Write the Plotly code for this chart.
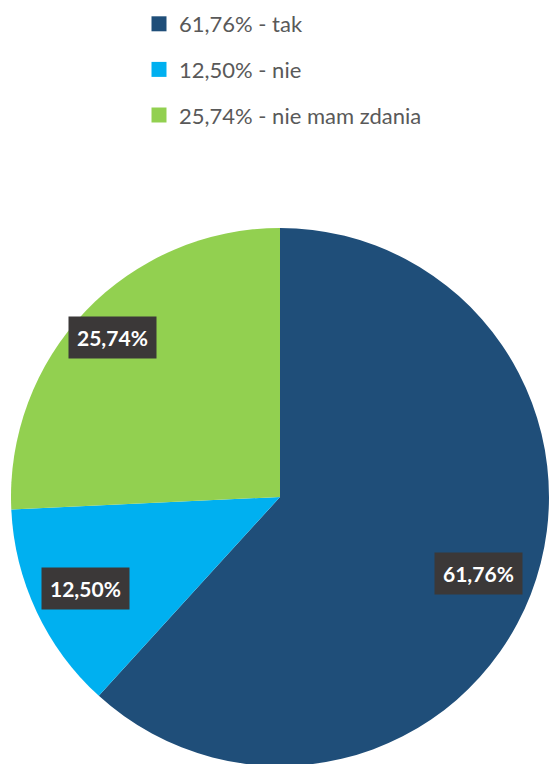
import math
import plotly.graph_objects as go

# Data
categories = ["tak", "nie", "nie mam zdania"]
values = [61.76, 12.50, 25.74]
value_labels = ["61,76%", "12,50%", "25,74%"]
colors = ["#1F4E79", "#00B0F0", "#92D050"]

W, H = 549, 766
CX, CY, R = 280, 497, 269  # pie centre / radius in pixels

fig = go.Figure()
fig.add_trace(go.Pie(
    labels=categories,
    values=values,
    sort=False,
    direction="clockwise",
    rotation=0,
    marker=dict(colors=colors, line=dict(width=0)),
    textinfo="none",
    hoverinfo="label+percent",
    showlegend=False,
    domain=dict(x=[(CX - R) / W, (CX + R) / W], y=[max(0, 1 - (CY + R) / H), 1 - (CY - R) / H]),
))

# legend entries via dummy traces
for cat, lab, col in zip(categories, value_labels, colors):
    fig.add_trace(go.Scatter(
        x=[None], y=[None], mode="markers",
        marker=dict(symbol="square", size=15, color=col),
        name=f"{lab} - {cat}", legendgroup=cat, showlegend=True,
    ))

# data labels in dark boxes placed at slice mid-angles
radial = [0.79, 0.80, 0.86]
total = sum(values)
cum = 0
for v, lab, rf in zip(values, value_labels, radial):
    mid = (cum + v / 2) / total * 2 * math.pi
    cum += v
    px = CX + rf * R * math.sin(mid)
    py = CY - rf * R * math.cos(mid)
    fig.add_annotation(
        x=px / W, y=1 - py / H, xref="paper", yref="paper",
        xanchor="center", yanchor="middle",
        text=f"<b>{lab}</b>", showarrow=False,
        font=dict(family="Lato", size=21, color="white"),
        bgcolor="#3B3838", borderpad=8,
    )

fig.update_layout(
    width=W, height=H,
    margin=dict(l=0, r=0, t=0, b=0),
    paper_bgcolor="white", plot_bgcolor="white",
    xaxis=dict(visible=False), yaxis=dict(visible=False),
    legend=dict(
        x=139 / W, y=1 - 3 / H, xanchor="left", yanchor="top",
        font=dict(family="Lato", size=22, color="#595959"),
        tracegroupgap=14, itemwidth=30,
        bgcolor="rgba(0,0,0,0)",
    ),
)

fig.write_html(
    "out.html",
    config={"displayModeBar": False},
    post_script="document.body.style.margin='0';document.body.style.overflow='hidden';",
)
